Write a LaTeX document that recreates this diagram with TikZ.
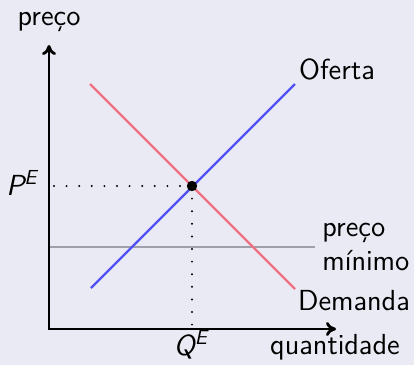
\documentclass[tikz,border=0pt]{standalone}
\usepackage{fontspec}
\renewcommand\familydefault{\sfdefault}
\usetikzlibrary{arrows.meta}
\definecolor{bgcol}{RGB}{234,234,244}
\definecolor{ofcol}{RGB}{80,80,245}
\definecolor{decol}{RGB}{240,112,128}
\definecolor{pmcol}{RGB}{160,160,170}
\tikzset{
  axis/.style={line width=1.4pt,-{To[length=5pt,width=7pt]}},
  curve/.style={line width=1.1pt},
  guide/.style={line width=1.1pt,dash pattern=on 0pt off 6.3pt,line cap=round},
  lbl/.style={inner sep=0pt,anchor=base,font=\fontsize{14.5}{17}\selectfont},
}
\begin{document}
\begin{tikzpicture}[x=0.5pt,y=-0.5pt]
\fill[bgcol] (0,0) rectangle (414,365);
\useasboundingbox (0,0) rectangle (414,365);
\coordinate (O) at (49,329);
\coordinate (ytip) at (49,45);
\coordinate (xtip) at (336,329);
\coordinate (E) at (192,186);
\coordinate (PEa) at (54,186);
\coordinate (QEa) at (192,329);
\coordinate (of1) at (91,288);
\coordinate (of2) at (295,84);
\coordinate (de1) at (90,84);
\coordinate (de2) at (295,289);
\coordinate (pm1) at (49,247);
\coordinate (pm2) at (315,247);
\draw[guide] (PEa) -- (E);
\draw[guide] (E) -- (QEa);
\draw[pmcol,line width=1pt] (pm1) -- (pm2);
\draw[decol,curve] (de1) -- (de2);
\draw[ofcol,curve] (of1) -- (of2);
\draw[axis] (O) -- (ytip);
\draw[axis] ([xshift=-0.7pt]O) -- (xtip);
\fill (E) circle (2.6pt);
\node[lbl] (preco) at (49,25) {preço};
\node[lbl] (PE) at (22,195) {\textit{P\textsuperscript{E}}};
\node[lbl] (QE) at (191,355) {\textit{Q\textsuperscript{E}}};
\node[lbl] (quant) at (335,354) {quantidade};
\node[lbl] (oferta) at (337,79) {Oferta};
\node[lbl,anchor=base west] (pm) at (322,236) {preço};
\node[lbl,anchor=base west] (pmb) at (322,270) {mínimo};
\node[lbl] (dem) at (354,310) {Demanda};
\end{tikzpicture}
\end{document}
